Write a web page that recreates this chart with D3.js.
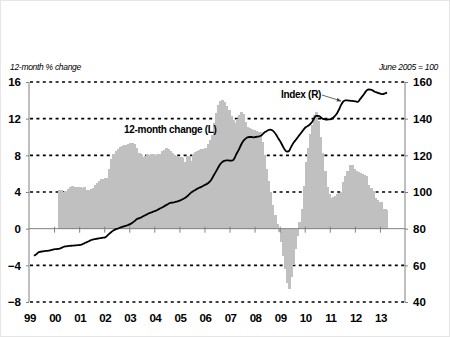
<!DOCTYPE html>
<html><head><meta charset="utf-8">
<script src="https://cdnjs.cloudflare.com/ajax/libs/d3/7.8.5/d3.min.js"></script>
<style>
html,body{margin:0;padding:0;background:#fff;}
svg{display:block;font-family:"Liberation Sans",Arial,sans-serif;}
</style></head><body>
<svg id="chart" width="450" height="338"></svg>
<script>
// 12-month % change (bars, left axis), monthly from Mar 2000 to Apr 2013
const barStart = [2000, 2]; // year, month index (0 = Jan)
const changeValues = [
  4.2,4.2,4.0,4.1,4.3,4.6,4.7,4.6,4.6,4.5,
  4.5,4.4,4.5,4.2,4.2,4.3,4.4,4.8,5.0,5.2,5.4,5.4,
  5.5,5.5,6.5,7.6,8.2,8.5,8.7,8.9,9.0,9.1,9.1,9.2,
  9.4,9.4,9.2,8.8,8.3,8.0,7.8,7.9,8.1,8.0,8.2,8.1,
  8.0,8.1,8.2,8.5,8.6,8.8,8.7,8.5,8.3,8.0,7.9,7.8,
  7.8,7.7,7.3,7.9,7.9,7.4,8.2,8.4,8.5,8.6,8.7,8.7,
  8.8,9.2,9.7,10.2,11.5,12.6,13.5,13.9,14.0,13.8,13.4,13.0,
  12.3,11.9,11.5,12.0,12.4,12.7,12.5,11.6,11.1,11.0,10.9,10.8,
  10.7,10.6,10.5,9.5,8.0,6.5,5.2,4.0,2.6,1.5,0.5,-0.4,
  -1.5,-3.0,-4.4,-5.9,-6.6,-5.3,-4.0,-2.2,-0.8,0.7,2.2,4.7,
  7.3,8.8,10.3,11.3,12.4,12.7,11.8,10.0,8.3,6.3,4.6,3.8,
  3.4,3.5,3.6,3.8,3.9,4.0,5.1,5.7,6.3,7.0,6.9,6.5,
  6.3,6.2,6.1,6.0,5.9,5.8,4.8,4.4,4.1,3.3,3.1,2.9,
  2.9,2.2,2.1,2.0
];
// Index, June 2005 = 100 (line, right axis), monthly from Mar 1999 to Apr 2013
const lineStart = [1999, 2];
const indexValues = [
  65.2,66,67,67.4,67.6,67.8,67.9,68,68.3,68.6,
  68.8,68.9,69,69.5,70,70.3,70.5,70.6,70.7,70.8,70.9,71,
  71.1,71.5,72,72.5,73,73.6,74,74.3,74.5,74.7,74.9,75.1,
  75.3,76.2,77.2,78.2,79,79.6,80,80.5,80.9,81.2,81.6,82,
  82.5,83.2,84,85,85.6,86,86.6,87.2,87.8,88.4,88.8,89.3,
  89.7,90.2,90.8,91.4,92,92.7,93.3,94,94.2,94.4,94.7,95,
  95.4,96,96.6,97.4,98.4,99.5,100.3,101,101.7,102.3,102.8,103.4,
  104,104.6,105.5,107,109,111,113,115,116.3,117,117.2,117.2,
  117.1,117.2,118.5,121,123,125.5,127.5,128.8,129.7,130,130,129.8,
  130,130.2,130.4,131,132.2,133,133.7,134,133.7,132.6,131,129,
  127.3,125,123.2,122,122.3,124.5,126.5,128,129.5,131,132.5,134,
  135.3,136,136.8,138,140,141.5,141.5,141,140,139.7,139.5,139.6,
  139.8,140.4,141.4,142.8,145,147.5,149.3,150,150,149.8,149.7,149.6,
  149.4,149.2,150.5,152,153.5,155.2,155.9,155.8,155.4,154.7,154.3,153.9,
  153.5,153.4,153.8,154.2
];
const yearLabels = ["99","00","01","02","03","04","05","06","07","08","09","10","11","12","13"];
const leftTicks = [-8,-4,0,4,8,12,16];
const rightTicks = [40,60,80,100,120,140,160];

const svg = d3.select("#chart");
// light frame
svg.append("rect").attr("x",0.5).attr("y",0.5).attr("width",449).attr("height",336)
  .attr("fill","#fff").attr("stroke","#e6e6e6");

const x = d3.scaleTime().domain([new Date(1999,0,1), new Date(2014,0,1)]).range([29,405]);
const yL = d3.scaleLinear().domain([-8,16]).range([302,82]);
const yR = d3.scaleLinear().domain([40,160]).range([302,82]);

const bars = changeValues.map((v,i)=>({start:new Date(barStart[0], barStart[1]+i, 1), end:new Date(barStart[0], barStart[1]+i+1, 1), v}));
const pts = indexValues.map((v,i)=>({d:new Date(lineStart[0], lineStart[1]+i, 15), v}));

// dashed gridlines
svg.append("g").selectAll("line").data(leftTicks.filter(t=>t!==0)).join("line")
  .attr("x1",30).attr("x2",405).attr("y1",d=>yL(d)).attr("y2",d=>yL(d))
  .attr("stroke","#000").attr("stroke-width",1.6).attr("stroke-dasharray","3,3.4");

// bars
const last = bars.length - 1;
svg.append("g").attr("shape-rendering","crispEdges").selectAll("rect").data(bars).join("rect")
  .attr("x",d=>x(d.start)).attr("width",(d,i)=>x(d.end)-x(d.start)+(i<last?1:0))
  .attr("y",d=>Math.min(yL(d.v),yL(0))).attr("height",d=>Math.abs(yL(d.v)-yL(0)))
  .attr("fill","#c0c0c0");

// zero axis with year ticks
const years = d3.range(1999,2014).map(yy=>new Date(yy,0,1));
const xAxis = d3.axisBottom(x).tickValues(years.slice(1)).tickSize(4).tickFormat("");
const gx = svg.append("g").attr("transform",`translate(0,${yL(0)})`).call(xAxis);
gx.select(".domain").attr("stroke","#808080").attr("d","M29,0H405");
gx.selectAll(".tick line").attr("stroke","#808080").attr("y1",-2);

// left axis
const gl = svg.append("g").attr("transform","translate(29,0)")
  .call(d3.axisLeft(yL).tickValues(leftTicks).tickSize(3).tickPadding(5).tickFormat(d3.format("d")));
gl.select(".domain").attr("stroke","#808080").attr("d","M0,82V302");
gl.selectAll(".tick line").attr("stroke","#808080");
gl.selectAll("text").attr("font-size",11.5).attr("font-weight","bold").attr("fill","#000")
  .attr("font-family","'Liberation Sans',Arial,sans-serif");

// right axis
const gr = svg.append("g").attr("transform","translate(405,0)")
  .call(d3.axisRight(yR).tickValues(rightTicks).tickSize(3).tickPadding(5).tickFormat(d3.format("d")));
gr.select(".domain").attr("stroke","#808080").attr("d","M0,82V302");
gr.selectAll(".tick line").attr("stroke","#808080");
gr.selectAll("text").attr("font-size",11.5).attr("font-weight","bold").attr("fill","#000")
  .attr("font-family","'Liberation Sans',Arial,sans-serif");

// year labels
svg.append("g").selectAll("text").data(yearLabels).join("text")
  .attr("x",(d,i)=>x(years[i])+1).attr("y",322)
  .attr("text-anchor","middle").attr("font-size",11.5).attr("font-weight","bold")
  .attr("letter-spacing",-0.5).text(d=>d);

// index line
svg.append("path").datum(pts)
  .attr("d",d3.line().x(d=>x(d.d)).y(d=>yR(d.v)).curve(d3.curveMonotoneX))
  .attr("fill","none").attr("stroke","#000").attr("stroke-width",1.8).attr("stroke-linejoin","round");

// titles
svg.append("text").attr("x",10).attr("y",70).attr("font-size",8.5).attr("font-style","italic")
  .attr("letter-spacing",-0.3).text("12-month % change");
svg.append("text").attr("x",438).attr("y",70).attr("text-anchor","end").attr("font-size",8.5)
  .attr("font-style","italic").attr("letter-spacing",-0.3).text("June 2005 = 100");

// series labels
svg.append("text").attr("x",124).attr("y",133).attr("font-size",10).attr("font-weight","bold")
  .attr("letter-spacing",-0.3).text("12-month change (L)");
svg.append("text").attr("x",281).attr("y",98).attr("font-size",10).attr("font-weight","bold")
  .attr("letter-spacing",-0.3).text("Index (R)");

// arrow
const defs = svg.append("defs");
defs.append("marker").attr("id","ah").attr("viewBox","0 0 10 10").attr("refX",9).attr("refY",5)
  .attr("markerWidth",6).attr("markerHeight",6).attr("orient","auto")
  .append("path").attr("d","M0,1L10,5L0,9Z").attr("fill","#404040");
svg.append("line").attr("x1",322).attr("y1",95).attr("x2",341).attr("y2",101)
  .attr("stroke","#404040").attr("stroke-width",0.8).attr("marker-end","url(#ah)");
</script>
</body></html>
